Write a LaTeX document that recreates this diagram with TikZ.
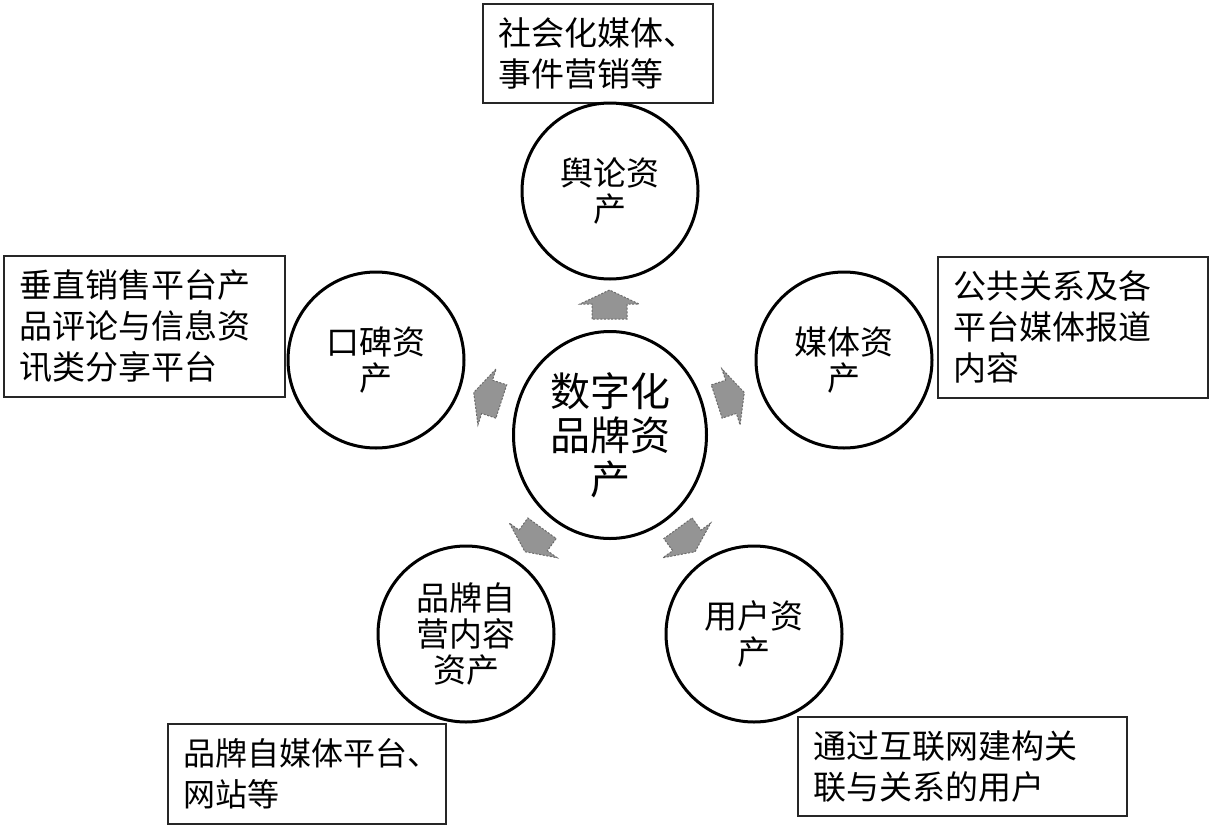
\documentclass[tikz,border=0pt]{standalone}
\usepackage{fontspec}
\setmainfont{Noto Sans CJK SC}
\usetikzlibrary{shapes.geometric}
\tikzset{
  asset/.style={circle, draw=black, line width=1.5pt, minimum size=88pt, inner sep=0pt, align=center, font=\fontsize{16.5}{17.8}\selectfont},
  hub/.style={ellipse, draw=black, line width=1.5pt, minimum width=96.5pt, minimum height=103.5pt, inner sep=0pt, align=center, font=\fontsize{20}{22}\selectfont},
  note/.style={rectangle, draw=black!85, line width=0.8pt, anchor=north west, align=left, inner xsep=8pt, inner ysep=0pt, font=\fontsize{16.5}{20.5}\selectfont},
  blockarrow/.style={fill=black!42, draw=black!58, dash pattern=on 1pt off 0.8pt, line width=0.5pt, line join=miter},
  pics/blockarr/.style={code={\draw[blockarrow] (-14.5,-17.5) -- (0.5,-17.5) -- (0.5,-29.5) -- (14.5,0) -- (0.5,29.5) -- (0.5,17.5) -- (-14.5,17.5) -- cycle;}}
}
\begin{document}
\begin{tikzpicture}[x=0.5pt,y=-0.5pt]
\path[fill=white, use as bounding box] (0,0) rectangle (1216,825);

% notes
\node[note, minimum width=115pt, minimum height=49.5pt, text width=99pt] (n1) at (482,3) {社会化媒体、\\事件营销等};
\node[note, minimum width=140.5pt, minimum height=70.5pt, text width=124.5pt] (n2) at (3,255) {垂直销售平台产\\品评论与信息资\\讯类分享平台};
\node[note, minimum width=135pt, minimum height=70.5pt, text width=119pt] (n3) at (937,256) {公共关系及各\\平台媒体报道\\内容};
\node[note, minimum width=139pt, minimum height=50pt, text width=123pt, font=\fontsize{16}{20.5}\selectfont] (n4) at (167,723) {品牌自媒体平台、\\网站等};
\node[note, minimum width=164.5pt, minimum height=49.5pt, text width=148.5pt] (n5) at (797,716) {通过互联网建构关\\联与关系的用户};

% asset circles
\node[asset] (opinion) at (610,191) {舆论资\\产};
\node[asset] (wom) at (376,360) {口碑资\\产};
\node[asset] (media) at (844,360) {媒体资\\产};
\node[asset] (own) at (466,634) {品牌自\\营内容\\资产};
\node[asset] (user) at (754,634) {用户资\\产};
\node[hub] (hub) at (610,435) {数字化\\品牌资\\产};

% block arrows
\pic[rotate=90] (a1) at (609.5,304.5) {blockarr};
\pic[rotate=162] (a2) at (487.5,397) {blockarr};
\pic[rotate=18] (a3) at (730.5,397) {blockarr};
\pic[rotate=234] (a4) at (533.5,540) {blockarr};
\pic[rotate=306] (a5) at (686.5,540) {blockarr};
\end{tikzpicture}
\end{document}
